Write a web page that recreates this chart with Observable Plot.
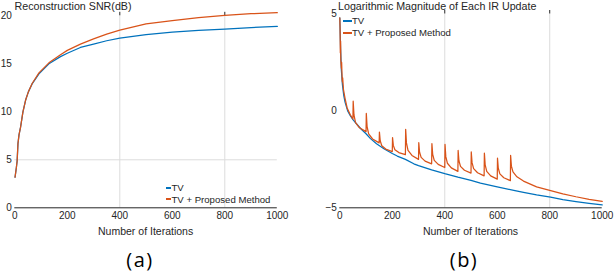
<!DOCTYPE html>
<html><head><meta charset="utf-8">
<script src="https://cdn.jsdelivr.net/npm/d3@7"></script>
<script src="https://cdn.jsdelivr.net/npm/@observablehq/plot@0.6"></script>
<style>
body{margin:0;background:#fff;}
#wrap{position:relative;width:614px;height:274px;font-family:"Liberation Sans",Arial,sans-serif;color:#262626;overflow:hidden;background:#fff}
.abs{position:absolute;white-space:nowrap}
.plot{position:absolute;top:0}
.sw{position:absolute;height:2px}
</style></head><body><div id="wrap"></div>
<script>
// ---- Panel (a): Reconstruction SNR (dB)
const iterA = [1, 6, 9, 12, 16, 22, 31, 41, 52, 66, 92, 130, 174, 200, 250, 300, 350, 400, 500, 600, 700, 800, 900, 1000];
const snrTV = [3.2, 4.2, 4.9, 6.67, 7.6, 8.4, 10.0, 11.2, 12.1, 12.9, 13.96, 15.0, 15.75, 16.1, 16.7, 17.05, 17.4, 17.67, 18.05, 18.3, 18.47, 18.6, 18.78, 18.9];
const snrProp = [3.2, 4.2, 4.9, 6.67, 7.6, 8.4, 10.0, 11.2, 12.1, 12.95, 14.05, 15.1, 15.95, 16.4, 17.05, 17.6, 18.1, 18.5, 19.15, 19.5, 19.82, 20.05, 20.22, 20.32];
const yTicksA = [0, 5, 10, 15, 20];

// ---- Panel (b): Logarithmic magnitude of each IR update
const iterB_TV = [0, 3, 6, 10, 15, 20, 30, 40, 50, 66, 80, 100, 117, 140, 168, 200, 219, 250, 282, 300, 350, 400, 450, 500, 536, 600, 663, 700, 750, 803, 850, 900, 950, 1000];
const logTV = [4.8, 3.2, 2.1, 1.35, 0.8, 0.45, 0.0, -0.25, -0.45, -0.7, -0.92, -1.18, -1.43, -1.7, -1.95, -2.2, -2.33, -2.5, -2.73, -2.82, -3.04, -3.24, -3.42, -3.58, -3.73, -3.92, -4.1, -4.2, -4.33, -4.45, -4.58, -4.68, -4.77, -4.85];
const iterB_P = [0,1,2,3,4,6,7,9,10,11,14,20,28,40,50,
  51,54,60,75,100, 101,104,110,125,150, 151,154,160,175,200, 201,204,210,225,250,
  251,254,260,275,300, 301,304,310,325,350, 351,354,360,375,400, 401,404,410,425,450,
  451,454,460,475,500, 501,504,510,525,550, 551,554,560,575,600, 601,604,610,625,650,
  651,654,660,675,700,750,800,850,900,950,1000];
const logProp = [4.8,4.3,3.0,3.6,2.6,2.2,2.5,1.6,1.5,1.7,1.1,0.65,0.15,-0.2,-0.42,
  0.5,-0.21,-0.6,-0.87,-1.07, -0.13,-0.81,-1.19,-1.45,-1.65, -1.09,-1.54,-1.80,-1.97,-2.1,
  -1.38,-1.78,-2.0,-2.15,-2.26, -0.95,-1.65,-2.04,-2.30,-2.5, -1.64,-2.13,-2.40,-2.59,-2.73,
  -1.69,-2.24,-2.55,-2.76,-2.92, -1.73,-2.36,-2.70,-2.94,-3.12, -2.04,-2.57,-2.86,-3.06,-3.21,
  -2.12,-2.67,-2.98,-3.19,-3.35, -2.18,-2.78,-3.12,-3.35,-3.52, -2.44,-2.96,-3.25,-3.45,-3.6,
  -2.3,-2.85,-3.15,-3.4,-3.62,-3.92,-4.1,-4.28,-4.43,-4.56,-4.67];
const yTicksB = [-5, 0, 5];

const xTicks = [0, 200, 400, 600, 800, 1000];
const gridX = [400, 800];
const gridYA = [5];
const seriesNames = ["TV", "TV + Proposed Method"];
const titles = ["Reconstruction SNR(dB)", "Logarithmic Magnitude of Each IR Update"];
const xLabel = "Number of Iterations";
const captions = ["(a)", "(b)"];

const BLUE = "#0072BD", ORANGE = "#D95319";
const toRows = (xs, ys) => xs.map((x, i) => ({x, y: ys[i]}));

const wrap = document.getElementById("wrap");

function panel({left, width, mL, mR, mT, yDomain, yTicks, gridY, s1, s2}) {
  const p = Plot.plot({
    width, height: 240,
    marginLeft: mL, marginRight: mR, marginTop: mT, marginBottom: 32.7,
    style: {fontFamily: '"Liberation Sans", Arial, sans-serif', fontSize: "10px", color: "#262626", background: "transparent", overflow: "visible"},
    x: {domain: [0, 1000], ticks: xTicks, tickFormat: d3.format("d")},
    y: {domain: yDomain, ticks: yTicks},
    marks: [
      Plot.ruleX(gridX, {stroke: "#dcdcdc", strokeWidth: 1}),
      Plot.ruleY(gridY, {stroke: "#dcdcdc", strokeWidth: 1}),
      Plot.ruleX(gridX, {y1: yDomain[1], y2: yDomain[1], insetTop: -3.5, stroke: "#262626", strokeWidth: 1}),
      Plot.axisX({ticks: xTicks, tickSize: 0, tickPadding: 4, label: null, tickFormat: d3.format("d")}),
      Plot.axisY({ticks: yTicks, tickSize: 0, tickPadding: 3, label: null}),
      Plot.ruleY([yDomain[0]], {stroke: "#262626", strokeWidth: 1}),
      Plot.line(s1, {x: "x", y: "y", stroke: BLUE, strokeWidth: 1.25}),
      Plot.line(s2, {x: "x", y: "y", stroke: ORANGE, strokeWidth: 1.25})
    ]
  });
  p.classList.add("plot");
  p.style.left = left + "px";
  wrap.appendChild(p);
}

panel({left: 0, width: 300, mL: 14.3, mR: 23.2, mT: 15.3, yDomain: [0, 20], yTicks: yTicksA, gridY: gridYA,
  s1: toRows(iterA, snrTV), s2: toRows(iterA, snrProp)});
panel({left: 310, width: 304, mL: 29.3, mR: 12.3, mT: 13.5, yDomain: [-5, 5], yTicks: yTicksB, gridY: [],
  s1: toRows(iterB_TV, logTV), s2: toRows(iterB_P, logProp)});

function text(str, x, yc, size, anchor) {
  const d = document.createElement("div");
  d.className = "abs";
  d.textContent = str;
  d.style.fontSize = size + "px";
  d.style.lineHeight = "1";
  d.style.top = (yc - size / 2) + "px";
  if (anchor === "middle") { d.style.left = x + "px"; d.style.transform = "translateX(-50%)"; }
  else d.style.left = x + "px";
  wrap.appendChild(d);
  return d;
}
function swatch(x, yc, w, color) {
  const s = document.createElement("div");
  s.className = "sw";
  s.style.left = x + "px"; s.style.top = (yc - 1) + "px"; s.style.width = w + "px"; s.style.background = color;
  wrap.appendChild(s);
}

// titles
text(titles[0], 14.5, 6.5, 10.7, "start");
text(titles[1], 338, 6.5, 10.7, "start");
// axis labels
text(xLabel, 145.6, 231, 10.5, "middle");
text(xLabel, 470.5, 231, 10.5, "middle");
// captions
const c1 = text(captions[0], 140, 260, 20, "middle");
const c2 = text(captions[1], 464, 260, 20, "middle");
for (const c of [c1, c2]) { c.style.fontFamily = '"Open Sans", sans-serif'; c.style.color = "#000"; c.style.letterSpacing = "1.5px"; }
// legends
swatch(165.5, 187.7, 5.5, BLUE); text(seriesNames[0], 171.5, 187.7, 9.6, "start");
swatch(165.5, 199.3, 5.5, ORANGE); text(seriesNames[1], 171.5, 199.3, 9.6, "start");
swatch(343.3, 20.7, 8.5, BLUE); text(seriesNames[0], 352, 20.7, 9.6, "start");
swatch(343.3, 32.7, 8.5, ORANGE); text(seriesNames[1], 352, 32.7, 9.6, "start");
</script>
</body></html>
